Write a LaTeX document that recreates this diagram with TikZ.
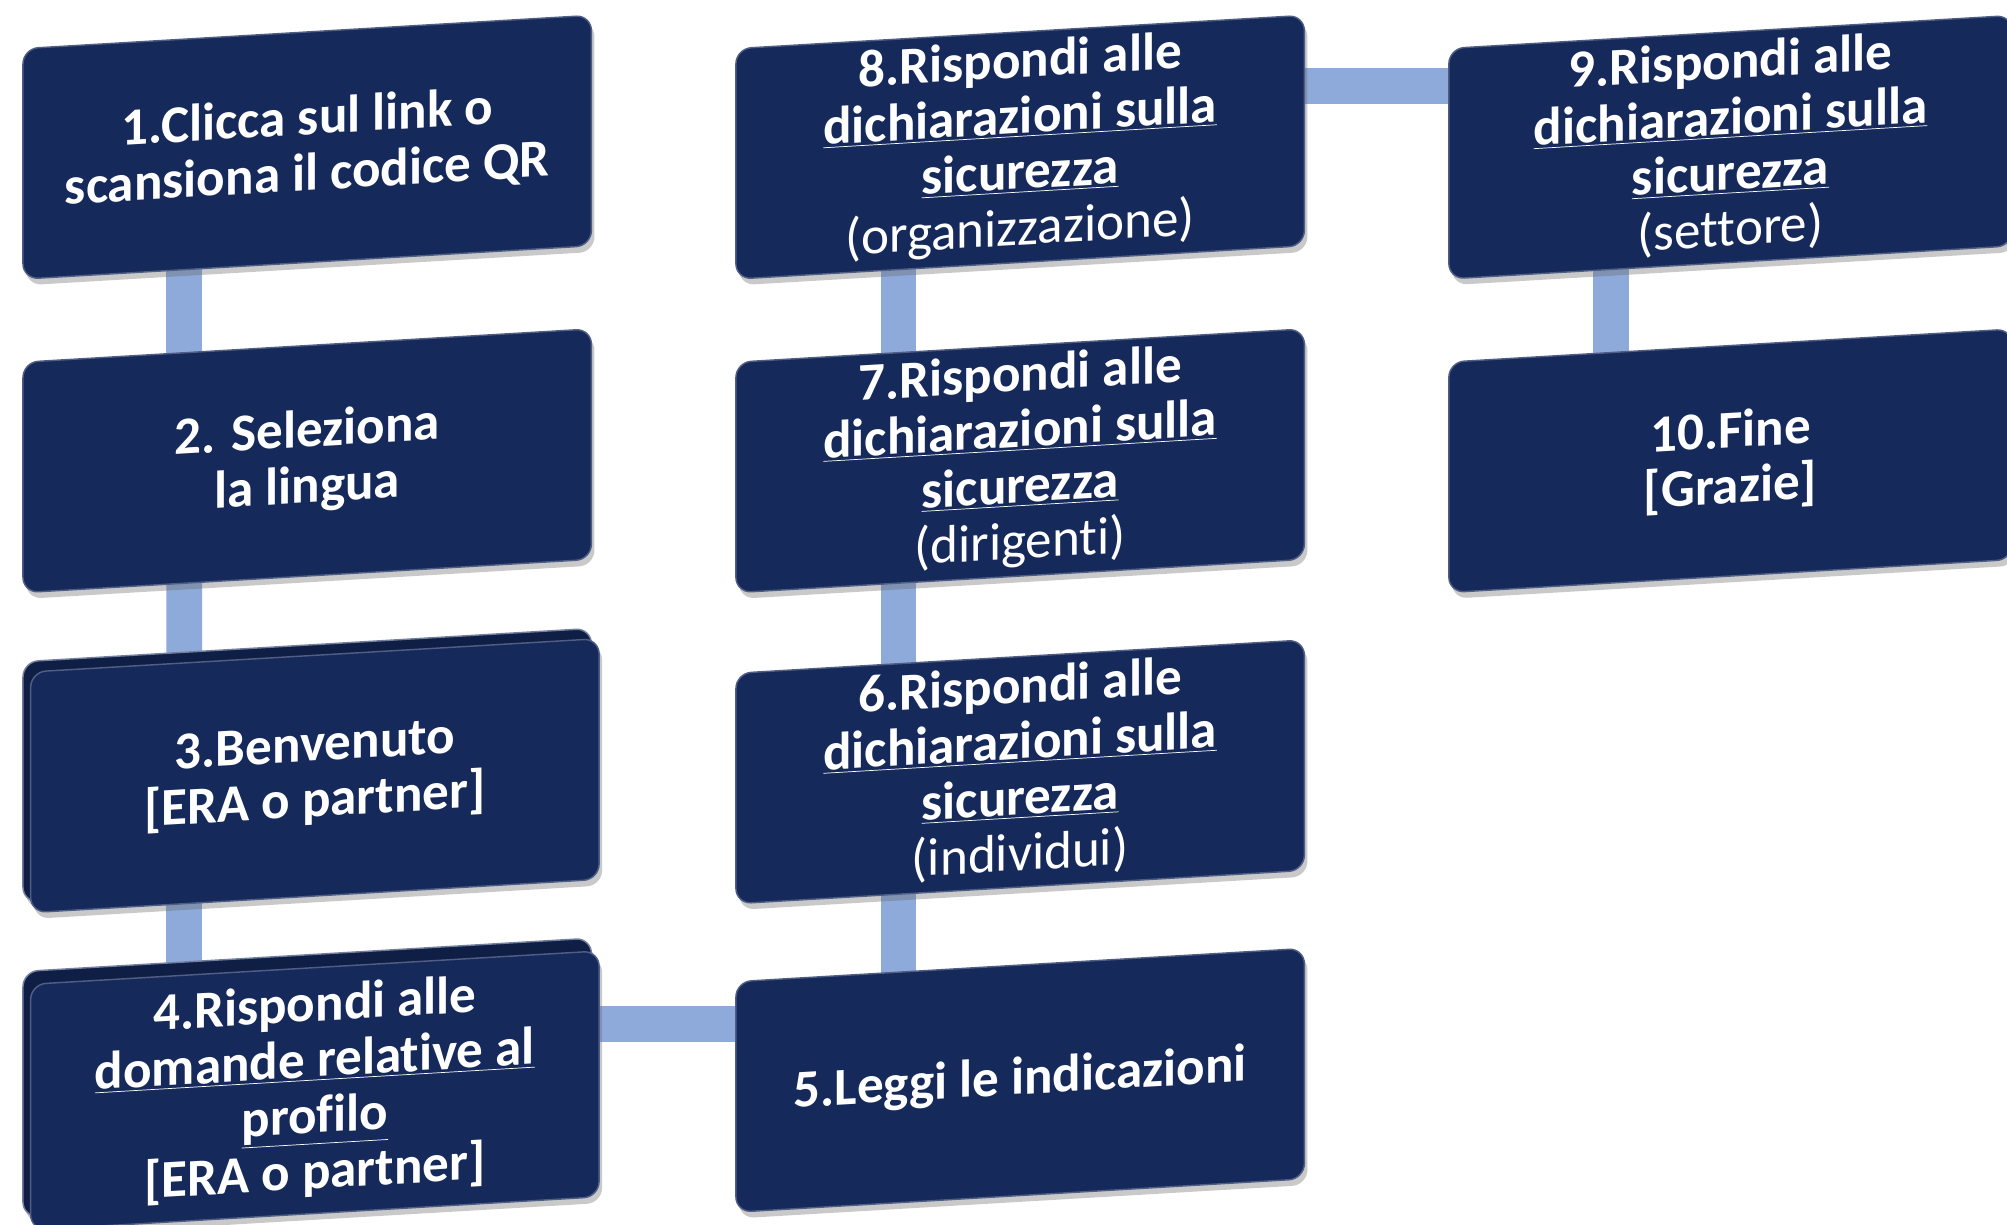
\documentclass[tikz,border=0pt]{standalone}
\usepackage{fontspec}
\setmainfont{Carlito}[Ligatures=NoCommon]
\usetikzlibrary{shadows,backgrounds}
\definecolor{navy}{HTML}{15295B}
\definecolor{navyback}{HTML}{0F1E45}
\definecolor{connc}{HTML}{8EAADB}
\begin{document}
\begin{tikzpicture}[x=0.025cm,y=-0.025cm,
  box/.style={fill=navy, draw=navy!75!white, line width=0.8pt, rounded corners=0.3cm,
    minimum width=11.1cm, minimum height=4.5cm, yslant=0.0586, text=white,
    align=center, inner sep=0pt,
    font=\fontsize{29.5}{31}\selectfont\bfseries,
    drop shadow={shadow xshift=0.06cm, shadow yshift=-0.12cm, opacity=0.35, fill=black!60}},
  backbox/.style={box, fill=navyback, draw=navy!60!white},
  connbar/.style={draw=connc, line width=0.7cm}]
\clip (0,0) rectangle (1568,957);
% back layers of stacked boxes
\node[backbox, minimum height=4.7cm] (b3back) at (240,598) {};
\node[backbox, minimum height=4.8cm] (b4back) at (240,842) {};
% boxes
\node[box] (b1) at (240,115) {1.Clicca sul link o\\scansiona il codice QR};
\node[box] (b2) at (240,360) {2. Seleziona\\la lingua};
\node[box, minimum height=4.7cm] (b3) at (246,606) {3.Benvenuto\\{[}ERA o partner{]}};
\node[box, minimum height=4.8cm] (b4) at (246,852) {4.Rispondi alle\\\underline{domande relative al}\\\underline{profilo}\\{[}ERA o partner{]}};
\node[box] (b5) at (797,844) {5.Leggi le indicazioni};
\node[box] (b6) at (797,603) {6.Rispondi alle\\\underline{dichiarazioni sulla}\\\underline{sicurezza}\\{\mdseries(individui)}};
\node[box] (b7) at (797,360) {7.Rispondi alle\\\underline{dichiarazioni sulla}\\\underline{sicurezza}\\{\mdseries(dirigenti)}};
\node[box] (b8) at (797,115) {8.Rispondi alle\\\underline{dichiarazioni sulla}\\\underline{sicurezza}\\{\mdseries(organizzazione)}};
\node[box, minimum width=11cm] (b9) at (1352,115) {9.Rispondi alle\\\underline{dichiarazioni sulla}\\\underline{sicurezza}\\{\mdseries(settore)}};
\node[box, minimum width=11cm] (b10) at (1352,360) {10.Fine\\{[}Grazie{]}};
% connectors
\begin{scope}[on background layer]
  \fill[white] (0,0) rectangle (1568,957);
  \draw[connbar] ([xshift=-2.4cm]b1.center) -- ([xshift=-2.4cm]b2.center);
  \draw[connbar] ([xshift=-2.4cm]b2.center) -- ([xshift=-2.55cm]b3.center);
  \draw[connbar] ([xshift=-2.55cm]b3.center) -- ([xshift=-2.55cm]b4.center);
  \draw[connbar] ([xshift=-2.375cm]b8.center) -- ([xshift=-2.375cm]b7.center);
  \draw[connbar] ([xshift=-2.375cm]b7.center) -- ([xshift=-2.375cm]b6.center);
  \draw[connbar] ([xshift=-2.375cm]b6.center) -- ([xshift=-2.375cm]b5.center);
  \draw[connbar] ([xshift=-2.33cm]b9.center) -- ([xshift=-2.33cm]b10.center);
  \draw[connbar] ([yshift=1.3cm]b4.center) -- ([yshift=1.3cm]b4.center -| b5.center);
  \draw[connbar] ([yshift=1.2cm]b8.center) -- ([yshift=1.2cm]b8.center -| b9.center);
\end{scope}
\end{tikzpicture}
\end{document}
